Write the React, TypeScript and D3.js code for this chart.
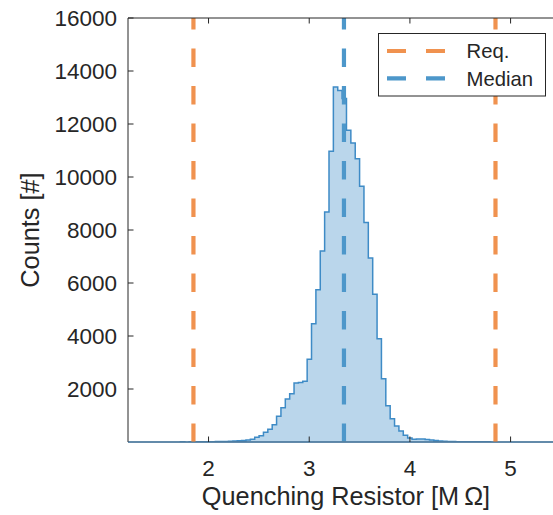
import { useRef, useEffect } from 'react';
import * as d3 from 'd3';

const W = 553;
const H = 515;

// histogram bins (MΩ) and counts
const BIN_START = 1.2;
const BIN_WIDTH = 0.0434;
const COUNTS = [
  0, 0, 1, 0, 1, 2, 1, 2, 3, 2, 4, 3, 5, 4, 6, 5, 7, 8, 9, 11,
  15, 18, 22, 28, 35, 45, 55, 75, 100, 180, 240, 370, 480, 655, 970, 1290,
  1620, 1820, 2230, 2250, 2290, 3120, 4460, 5750, 7210, 8680, 10970, 13400,
  13260, 12960, 11760, 11280, 10690, 9650, 8280, 6940, 5580, 3900, 2390, 1370,
  880, 600, 415, 255, 150, 105, 115, 110, 95, 75, 55, 40, 28, 20, 15,
  12, 10, 9, 8, 7, 6, 5, 5, 4, 4, 3, 3, 3, 2, 2, 2, 1, 1, 1, 1, 1, 0, 0,
];
const REQ = [1.85, 4.85];
const MEDIAN = 3.345;
const X_TICKS = [2, 3, 4, 5];
const Y_TICKS = [2000, 4000, 6000, 8000, 10000, 12000, 14000, 16000];

const ORANGE = '#F0924F';
const BLUE = '#4D97CA';
const FILL = '#BAD6EB';
const EDGE = '#3E8BC6';
const AXIS = '#262626';
const FONT = '"Liberation Sans", Arial, Helvetica, sans-serif';

const LEGEND = [
  { label: 'Req.', color: ORANGE },
  { label: 'Median', color: BLUE },
];

export default function App() {
  const svgRef = useRef<SVGSVGElement>(null);

  useEffect(() => {
    const svg = d3.select(svgRef.current);
    svg.selectAll('*').remove();

    const m = { left: 128, top: 18, bottom: 442 };
    const x = d3.scaleLinear().domain([1.2, 5.6]).range([m.left, 571]);
    const y = d3.scaleLinear().domain([0, 16000]).range([m.bottom, m.top]);

    svg.append('defs').append('clipPath').attr('id', 'plot')
      .append('rect').attr('x', m.left).attr('y', m.top - 1)
      .attr('width', 571 - m.left).attr('height', m.bottom - m.top + 2);

    const plot = svg.append('g').attr('clip-path', 'url(#plot)');

    // stepped histogram area
    const pts: [number, number][] = COUNTS.map((c, i) => [BIN_START + i * BIN_WIDTH, c]);
    pts.push([BIN_START + COUNTS.length * BIN_WIDTH, COUNTS[COUNTS.length - 1]]);
    const area = d3.area<[number, number]>()
      .x(d => x(d[0])).y0(y(0)).y1(d => y(d[1]))
      .curve(d3.curveStepAfter);
    plot.append('path').datum(pts)
      .attr('d', area)
      .attr('fill', FILL)
      .attr('stroke', EDGE)
      .attr('stroke-width', 1.5)
      .attr('stroke-linejoin', 'miter');

    // vertical dashed lines, drawn bottom up
    const vline = (v: number, color: string) => plot.append('line')
      .attr('x1', x(v)).attr('x2', x(v))
      .attr('y1', y(0)).attr('y2', y(16000))
      .attr('stroke', color).attr('stroke-width', 4.2)
      .attr('stroke-dasharray', '18.5,19');
    REQ.forEach(v => vline(v, ORANGE));
    vline(MEDIAN, BLUE);

    // axes box
    const ax = svg.append('g').attr('stroke', AXIS).attr('stroke-width', 1);
    ax.append('line').attr('x1', m.left).attr('x2', m.left).attr('y1', m.top).attr('y2', m.bottom);
    ax.append('line').attr('x1', m.left).attr('x2', 571).attr('y1', m.top).attr('y2', m.top);
    ax.append('line').attr('x1', m.left).attr('x2', 571).attr('y1', m.bottom).attr('y2', m.bottom)
      .attr('stroke', '#5a6f80');

    Y_TICKS.forEach(t => {
      ax.append('line').attr('x1', m.left).attr('x2', m.left + 5.5)
        .attr('y1', y(t)).attr('y2', y(t));
    });
    X_TICKS.forEach(t => {
      ax.append('line').attr('x1', x(t)).attr('x2', x(t))
        .attr('y1', m.bottom).attr('y2', m.bottom - 5.5);
      ax.append('line').attr('x1', x(t)).attr('x2', x(t))
        .attr('y1', m.top).attr('y2', m.top + 5.5);
    });

    const txt = svg.append('g').attr('font-family', FONT).attr('fill', AXIS);
    Y_TICKS.forEach(t => {
      txt.append('text').attr('x', 117).attr('y', y(t)).attr('dy', '0.36em')
        .attr('text-anchor', 'end').attr('font-size', 22.5).text(t);
    });
    X_TICKS.forEach(t => {
      txt.append('text').attr('x', x(t)).attr('y', 476)
        .attr('text-anchor', 'middle').attr('font-size', 22.5).text(t);
    });

    txt.append('text').attr('x', 346).attr('y', 505)
      .attr('text-anchor', 'middle').attr('font-size', 25.3)
      .text('Quenching Resistor [M\u2009Ω]');
    txt.append('text')
      .attr('transform', `translate(39,${(m.top + m.bottom) / 2}) rotate(-90)`)
      .attr('text-anchor', 'middle').attr('font-size', 25.3)
      .text('Counts [#]');

    // legend
    const lg = svg.append('g');
    lg.append('rect').attr('x', 378.5).attr('y', 33.5).attr('width', 167).attr('height', 62.5)
      .attr('fill', '#fff').attr('stroke', AXIS).attr('stroke-width', 1);
    LEGEND.forEach((d, i) => {
      const yy = 51 + i * 27.3;
      lg.append('line').attr('x1', 387).attr('x2', 445).attr('y1', yy).attr('y2', yy)
        .attr('stroke', d.color).attr('stroke-width', 4.2).attr('stroke-dasharray', '19,20');
      lg.append('text').attr('x', 466.5).attr('y', yy).attr('dy', '0.36em')
        .attr('font-family', FONT).attr('font-size', 20.3).attr('fill', AXIS).text(d.label);
    });
  }, []);

  return (
    <svg ref={svgRef} width={W} height={H}
      style={{ position: 'absolute', left: 0, top: 0, background: '#fff' }} />
  );
}
